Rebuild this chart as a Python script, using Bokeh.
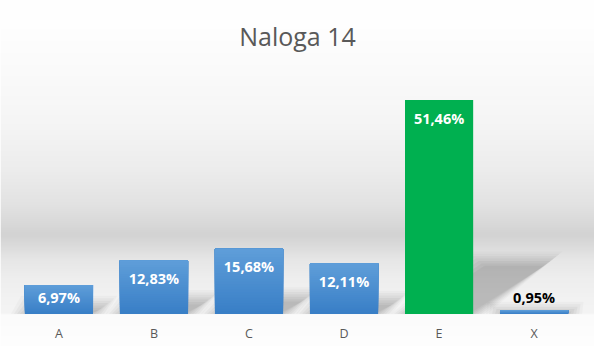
import numpy as np
from bokeh.plotting import figure
from bokeh.models import Range1d, Label, ColumnDataSource
from bokeh.core.properties import value
from bokeh.embed import file_html
from bokeh.resources import INLINE

# ---------------- data ----------------
title_text = "Naloga 14"
categories = ["A", "B", "C", "D", "E", "X"]
shares = [6.97, 12.83, 15.68, 12.11, 51.46, 0.95]
value_labels = ["6,97%", "12,83%", "15,68%", "12,11%", "51,46%", "0,95%"]
highlight = "E"

# ---------------- layout / style ----------------
W, H = 594, 346
SX, SY = W / 610, H / 362          # reference -> figure pixel scale
BASE_PX = H - 328 * SY             # baseline distance from bottom of figure
PX_Y = 4.353 * SY                  # pixels per percent
STEP_X = 97.6 * SX                 # pixels per category
FIRST_X = 60 * SX                  # first bar centre in px
BAR_W = 70 * SX / STEP_X
FONT = "Open Sans"
BLUE_TOP = np.array([95, 158, 217])
BLUE_BOT = np.array([56, 126, 198])
GREEN = "#00B050"
GREY_TXT = "#595959"

y0 = -BASE_PX / PX_Y
y1 = (H - BASE_PX) / PX_Y
x0 = 0.5 - FIRST_X / STEP_X
x1 = x0 + W / STEP_X

p = figure(width=W, height=H, output_backend="svg", toolbar_location=None,
           x_range=Range1d(x0, x1), y_range=Range1d(y0, y1),
           x_axis_location=None, y_axis_location=None, min_border=0,
           border_fill_color="white", background_fill_color="white")
p.grid.visible = False
p.outline_line_color = None

# ---------------- background gradient ----------------
stops_y = [0, 30, 80, 130, 180, 215, 235, 245, 255, 270, 290, 310, 327, 329, 362]
stops_g = [255, 254, 250, 245, 236, 226, 216, 211, 218, 230, 238, 242, 244, 251, 254]
rows = np.arange(H)                       # 0 = bottom row
ref_y = ((H - 1 - rows) + 0.5) / SY
g = np.interp(ref_y, stops_y, stops_g).astype(np.uint8)
img = np.empty((H, 1), dtype=np.uint32)
view = img.view(dtype=np.uint8).reshape((H, 1, 4))
view[:, 0, 0] = g
view[:, 0, 1] = g
view[:, 0, 2] = g
view[:, 0, 3] = 255
p.image_rgba(image=[img], x=x0, y=y0, dw=x1 - x0, dh=y1 - y0)

# ---------------- shadows (soft, skewed) ----------------
xc = [i + 0.5 for i in range(len(categories))]
SH_SCALE = 0.24
SH_SKEW = 1.47
layers = [(14, 0.025), (11, 0.03), (8, 0.035), (5, 0.04), (2, 0.04), (-1, 0.04), (-4, 0.04)]
for e, a in layers:
    sx, sy = [], []
    for c, v in zip(xc, shares):
        ht_px = SH_SCALE * v * PX_Y
        top_px = max(ht_px + e * 0.8, 1.0)
        dx = SH_SKEW * ht_px / STEP_X
        ex = e / STEP_X
        hw = BAR_W / 2
        sx.append([c - hw - ex, c + hw + ex, c + hw + ex + dx, c - hw - ex + dx])
        sy.append([0, 0, top_px / PX_Y, top_px / PX_Y])
    p.patches(xs=sx, ys=sy, fill_color="black", fill_alpha=a, line_color=None)

# ---------------- bars ----------------
N = 24
bx, bt, bb, bc = [], [], [], []
for k in range(N):
    f = (k + 0.5) / N
    col = BLUE_BOT + (BLUE_TOP - BLUE_BOT) * f
    hexcol = "#%02x%02x%02x" % tuple(int(round(c)) for c in col)
    for c, v, cat in zip(xc, shares, categories):
        if cat == highlight:
            continue
        bx.append(c)
        bt.append(v)
        bb.append(v * k / N)
        bc.append(hexcol)
p.vbar(x="x", top="top", bottom="bottom", width=BAR_W, fill_color="color",
       line_color=None, source=ColumnDataSource(dict(x=bx, top=bt, bottom=bb, color=bc)))

gx = [c for c, cat in zip(xc, categories) if cat == highlight]
gt = [v for v, cat in zip(shares, categories) if cat == highlight]
p.vbar(x=gx, top=gt, bottom=0, width=BAR_W, fill_color=GREEN, line_color=None)

# ---------------- value labels ----------------
ly, lc = [], []
for v in shares:
    h_px = v * PX_Y
    if h_px >= 15:
        ly.append(v - min(19 * SY, h_px * 0.43) / PX_Y)
        lc.append("white")
    else:
        ly.append(v + 13 * SY / PX_Y)
        lc.append("black")
p.text(x="x", y="y", text="t", text_color="c", source=ColumnDataSource(dict(x=xc, y=ly, t=value_labels, c=lc)),
       text_font=value(FONT), text_font_style="bold", text_font_size="14.5px",
       text_align="center", text_baseline="middle")

# ---------------- category labels ----------------
cat_y = y0 + (H - 348 * SY) / PX_Y
p.text(x=xc, y=[cat_y] * len(xc), text=categories, text_color=GREY_TXT,
       text_font=value(FONT), text_font_size="12.5px",
       text_align="center", text_baseline="middle")

# ---------------- title ----------------
p.add_layout(Label(x=305 * SX, y=H - 37 * SY, x_units="screen", y_units="screen",
                   text=title_text, text_font=FONT, text_font_size="25px",
                   text_color=GREY_TXT, text_align="center", text_baseline="alphabetic"))

open("out.html", "w").write(file_html(p, INLINE))
